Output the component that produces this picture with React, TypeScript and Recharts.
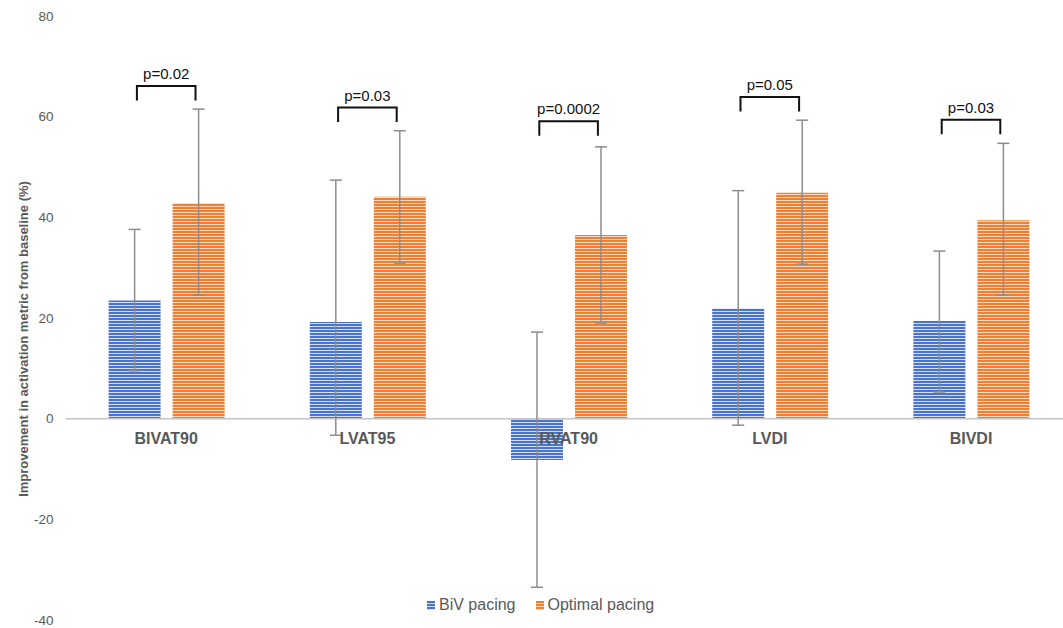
import React from 'react';
import { ComposedChart, Bar, ErrorBar, XAxis, YAxis, ReferenceLine, Scatter, Legend } from 'recharts';

const categories = ['BIVAT90', 'LVAT95', 'RVAT90', 'LVDI', 'BIVDI'];
const bivMean = [23.5, 19.2, -8.2, 21.9, 19.4];
const bivMinus = [14.0, 22.5, 25.3, 23.2, 14.1];
const bivPlus = [14.1, 28.2, 25.4, 23.4, 13.9];
const optMean = [42.8, 44.1, 36.5, 44.9, 39.4];
const optMinus = [18.3, 13.2, 17.5, 14.2, 14.8];
const optPlus = [18.7, 13.1, 17.5, 14.4, 15.3];
const bracketTop = [66.1, 61.8, 59.1, 63.9, 59.4];
const pLabels = ['p=0.02', 'p=0.03', 'p=0.0002', 'p=0.05', 'p=0.03'];
const yTicks = [-40, -20, 0, 20, 40, 60, 80];
const seriesNames = ['BiV pacing', 'Optimal pacing'];

const data = categories.map((name, i) => ({
  name,
  biv: bivMean[i],
  bivErr: [bivMinus[i], bivPlus[i]],
  opt: optMean[i],
  optErr: [optMinus[i], optPlus[i]],
  bracket: bracketTop[i],
  p: pLabels[i],
  base: 0,
}));

const FONT = '"Liberation Sans", Arial, Helvetica, sans-serif';
const GREY = '#595959';

const Bracket = (props: any) => {
  const { cx, cy, payload } = props;
  if (cx == null || cy == null) return null;
  const h = 14.5;
  const w = 29.3;
  return (
    <g>
      <path d={`M${cx - w},${cy + h}V${cy}H${cx + w}V${cy + h}`} fill="none" stroke="#111" strokeWidth={2} />
      <text x={cx} y={cy - 7} textAnchor="middle" fontSize={15} fill="#111" fontFamily={FONT}>
        {payload.p}
      </text>
    </g>
  );
};

const CatLabel = (props: any) => {
  const { cx, cy, payload } = props;
  if (cx == null || cy == null) return null;
  return (
    <text x={cx} y={cy + 25.5} textAnchor="middle" fontSize={16} fontWeight="bold" fill={GREY} fontFamily={FONT}>
      {payload.name}
    </text>
  );
};

const YLabel = (props: any) => {
  const vb = props.viewBox || { x: 0, y: 16, width: 65, height: 604 };
  const x = vb.x + 23;
  const y = vb.y + vb.height / 2 + 21;
  return (
    <text
      x={x}
      y={y}
      transform={`rotate(-90 ${x} ${y})`}
      textAnchor="middle"
      dominantBaseline="central"
      fontSize={13}
      fontWeight="bold"
      fill={GREY}
      fontFamily={FONT}
    >
      Improvement in activation metric from baseline (%)
    </text>
  );
};

const LegendContent = () => (
  <div style={{ display: 'flex', alignItems: 'center', fontFamily: FONT, fontSize: 16, color: GREY, whiteSpace: 'nowrap' }}>
    <svg width={8} height={9} style={{ marginRight: 4 }}>
      <rect x={0} y={0} width={8} height={9} fill="url(#bluePat)" />
    </svg>
    <span style={{ marginRight: 20 }}>{seriesNames[0]}</span>
    <svg width={8} height={9} style={{ marginRight: 4 }}>
      <rect x={0} y={0} width={8} height={9} fill="url(#orangePat)" />
    </svg>
    <span>{seriesNames[1]}</span>
  </div>
);

export default function App() {
  return (
    <div style={{ position: 'absolute', left: 0, top: 0, width: 1063, height: 628, overflow: 'hidden', background: '#fff' }}>
      <ComposedChart
        width={1080}
        height={628}
        data={data}
        margin={{ top: 16, right: 8.4, bottom: 8, left: 0 }}
        barSize={52}
        barGap={12}
      >
        <defs>
          <pattern id="bluePat" width={4} height={3} patternUnits="userSpaceOnUse">
            <rect x={0} y={0} width={4} height={2} fill="#4a74c9" />
            <rect x={0} y={2} width={4} height={1} fill="#d3def3" />
          </pattern>
          <pattern id="orangePat" width={4} height={3} patternUnits="userSpaceOnUse">
            <rect x={0} y={0} width={4} height={2} fill="#ef7f31" />
            <rect x={0} y={2} width={4} height={1} fill="#fbd8bf" />
          </pattern>
        </defs>
        <XAxis dataKey="name" type="category" hide />
        <YAxis
          width={65.6}
          domain={[-40, 80]}
          ticks={yTicks}
          axisLine={false}
          tickLine={false}
          tickMargin={6}
          tick={{ fontSize: 13.5, fill: GREY, fontFamily: FONT }}
          label={<YLabel />}
        />
        <ReferenceLine y={0} stroke="#c4c4c4" strokeWidth={1.5} />
        <Bar dataKey="biv" name={seriesNames[0]} fill="url(#bluePat)" isAnimationActive={false}>
          <ErrorBar dataKey="bivErr" width={6} stroke="#8c8c8c" strokeWidth={1.5} />
        </Bar>
        <Bar dataKey="opt" name={seriesNames[1]} fill="url(#orangePat)" isAnimationActive={false}>
          <ErrorBar dataKey="optErr" width={6} stroke="#8c8c8c" strokeWidth={1.5} />
        </Bar>
        <Scatter dataKey="base" shape={<CatLabel />} legendType="none" isAnimationActive={false} />
        <Scatter dataKey="bracket" shape={<Bracket />} legendType="none" isAnimationActive={false} />
        <Legend
          layout="horizontal"
          verticalAlign="middle"
          align="center"
          content={<LegendContent />}
          wrapperStyle={{ position: 'absolute', left: 427, top: 596, width: 250, height: 20 }}
        />
      </ComposedChart>
    </div>
  );
}
